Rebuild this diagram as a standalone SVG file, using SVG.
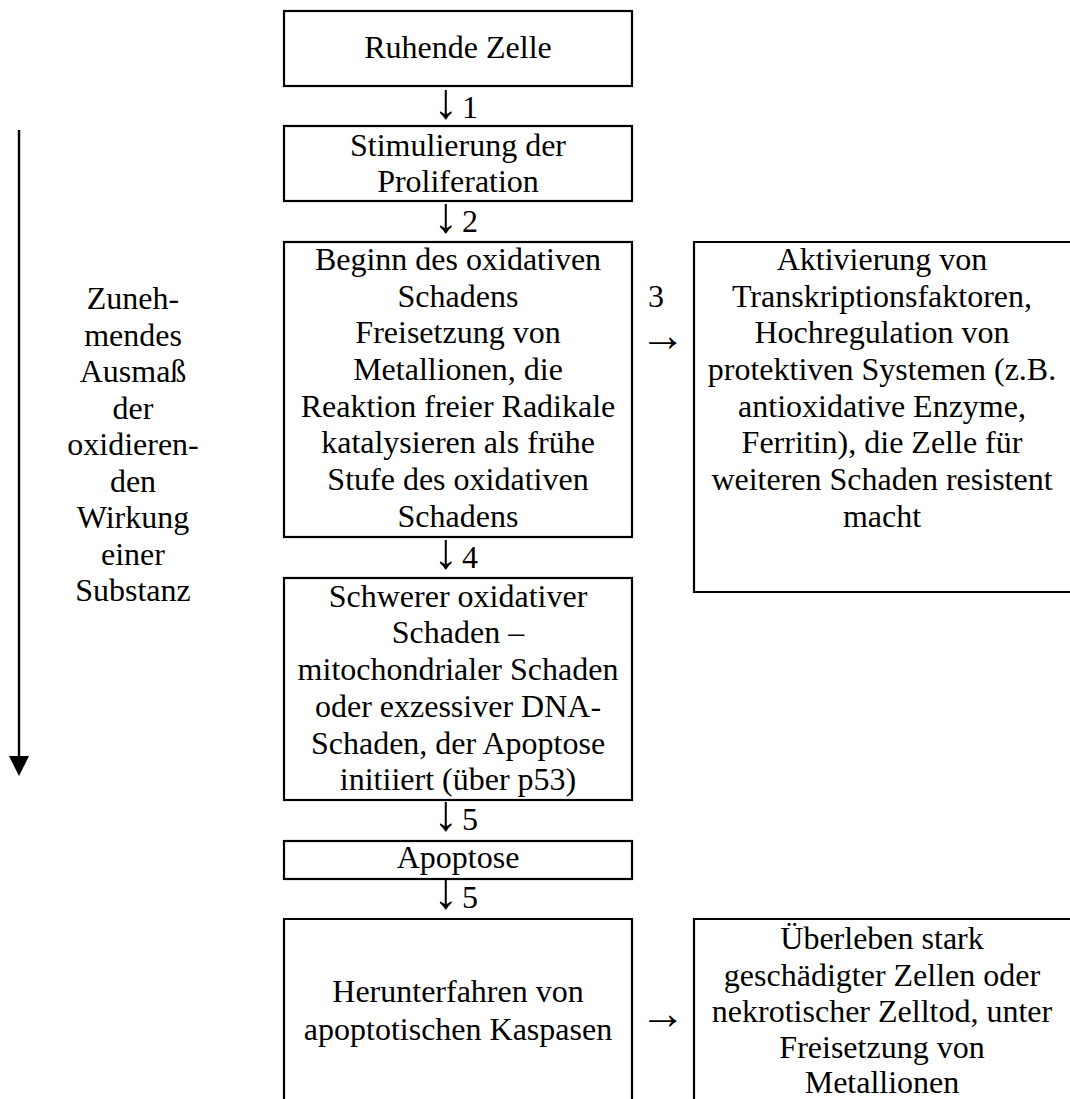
<svg xmlns="http://www.w3.org/2000/svg" width="1070" height="1099" viewBox="0 0 1070 1099">
<style>
.box{fill:#fff;stroke:#000;stroke-width:2.2}
text{font-family:"Liberation Serif","Times New Roman",serif;font-size:32px;fill:#000;text-anchor:middle}
.ar{font-size:50px}
.arr{font-size:46px}
.ln{stroke:#000;stroke-width:2.4;fill:none}
</style>
<rect width="1070" height="1099" fill="#fff"/>
<g id="n1"><rect class="box" x="284" y="11" width="348" height="75"/><text x="458" y="58">Ruhende Zelle</text></g>
<g id="n2"><rect class="box" x="284" y="126" width="348" height="75"/><text x="458" y="156">Stimulierung der</text><text x="458" y="192">Proliferation</text></g>
<g id="n3"><rect class="box" x="284" y="242" width="348" height="295"/>
<text x="458" y="270">Beginn des oxidativen</text>
<text x="458" y="307">Schadens</text>
<text x="458" y="343">Freisetzung von</text>
<text x="458" y="380">Metallionen, die</text>
<text x="458" y="417">Reaktion freier Radikale</text>
<text x="458" y="453">katalysieren als frühe</text>
<text x="458" y="490">Stufe des oxidativen</text>
<text x="458" y="527">Schadens</text></g>
<g id="n3r"><path class="box" d="M1071,242 H694 V592 H1071"/>
<text x="882" y="270">Aktivierung von</text>
<text x="882" y="307">Transkriptionsfaktoren,</text>
<text x="882" y="343">Hochregulation von</text>
<text x="882" y="380">protektiven Systemen (z.B.</text>
<text x="882" y="417">antioxidative Enzyme,</text>
<text x="882" y="453">Ferritin), die Zelle für</text>
<text x="882" y="490">weiteren Schaden resistent</text>
<text x="882" y="527">macht</text></g>
<g id="n4"><rect class="box" x="284" y="578" width="348" height="222"/>
<text x="458" y="607">Schwerer oxidativer</text>
<text x="458" y="643">Schaden –</text>
<text x="458" y="680">mitochondrialer Schaden</text>
<text x="458" y="717">oder exzessiver DNA-</text>
<text x="458" y="754">Schaden, der Apoptose</text>
<text x="458" y="790">initiiert (über p53)</text></g>
<g id="n5"><rect class="box" x="284" y="841" width="348" height="38"/><text x="458" y="868">Apoptose</text></g>
<g id="n6"><path class="box" d="M284,1101 V919 H632 V1101"/>
<text x="458" y="1002">Herunterfahren von</text>
<text x="458" y="1040">apoptotischen Kaspasen</text></g>
<g id="n6r"><path class="box" d="M694,1101 V919 H1071"/>
<text x="882" y="949">Überleben stark</text>
<text x="882" y="986">geschädigter Zellen oder</text>
<text x="882" y="1022">nekrotischer Zelltod, unter</text>
<text x="882" y="1058">Freisetzung von</text>
<text x="882" y="1093">Metallionen</text></g>
<g id="side"><text x="133" y="309">Zuneh-</text>
<text x="133" y="346">mendes</text>
<text x="133" y="382">Ausmaß</text>
<text x="133" y="419">der</text>
<text x="133" y="455">oxidieren-</text>
<text x="133" y="492">den</text>
<text x="133" y="528">Wirkung</text>
<text x="133" y="565">einer</text>
<text x="133" y="601">Substanz</text></g>
<g id="connectors">
<text x="446" y="118"><tspan class="ar">↓</tspan></text><text x="470" y="118">1</text>
<text x="446" y="232"><tspan class="ar">↓</tspan></text><text x="470" y="232">2</text>
<text x="446" y="568"><tspan class="ar">↓</tspan></text><text x="470" y="568">4</text>
<text x="446" y="830"><tspan class="ar">↓</tspan></text><text x="470" y="830">5</text>
<text x="446" y="908"><tspan class="ar">↓</tspan></text><text x="470" y="908">5</text>
<text x="656" y="307">3</text>
<text class="arr" x="663" y="351">→</text>
<text class="arr" x="663" y="1029">→</text>
<line class="ln" x1="19" y1="130" x2="19" y2="758"/>
<polygon points="9,756 29,756 19,776" fill="#000"/>
</g>
</svg>
